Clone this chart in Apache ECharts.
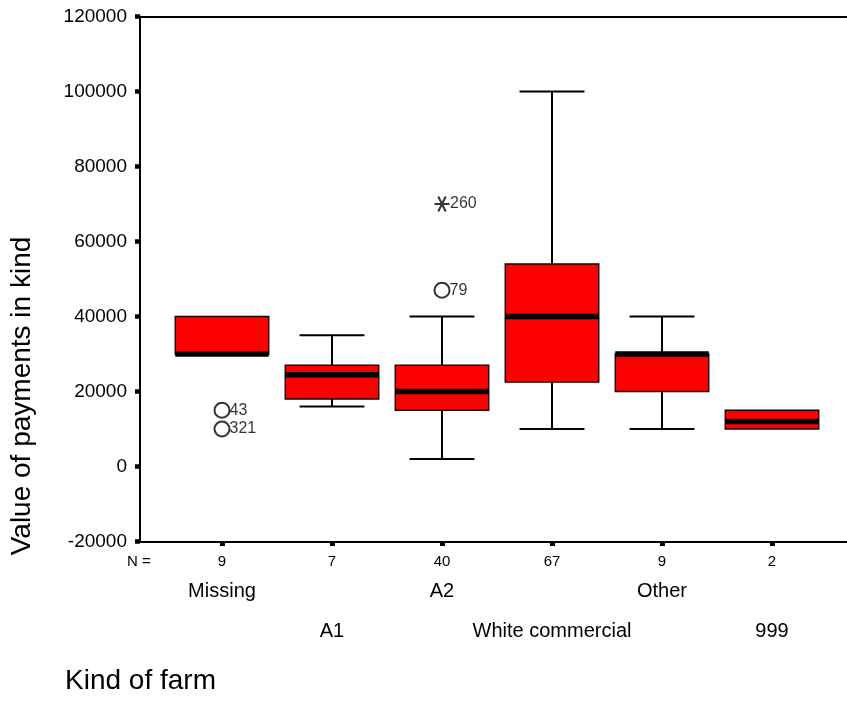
<!DOCTYPE html>
<html>
<head>
<meta charset="utf-8">
<script src="https://cdn.jsdelivr.net/npm/echarts@6/dist/echarts.min.js"></script>
<style>
  html, body { margin: 0; padding: 0; background: #ffffff; }
  #chart { width: 847px; height: 709px; }
</style>
</head>
<body>
<div id="chart"></div>
<script>
// Kind of farm groups and their box-plot summaries (value of payments in kind)
const categories = ['Missing', 'A1', 'A2', 'White commercial', 'Other', '999'];
const groupSizes = [9, 7, 40, 67, 9, 2];
const whiskerLow = [30000, 16000, 2000, 10000, 10000, 10000];
const quartile1 = [30000, 18000, 15000, 22500, 20000, 10000];
const medians = [30000, 24500, 20000, 40000, 30000, 12000];
const quartile3 = [40000, 27000, 27000, 54000, 30000, 15000];
const whiskerHigh = [40000, 35000, 40000, 100000, 40000, 15000];

// Outliers (circles) and extremes (stars), labelled with case numbers
const outlierCase = ['43', '321', '79'];
const outlierGroup = [0, 0, 2];
const outlierValue = [15000, 10000, 47000];
const extremeCase = ['260'];
const extremeGroup = [2];
const extremeValue = [70000];

// Value axis range
const yMin = -20000;
const yMax = 120000;
const yStep = 20000;

const FONT = '"Liberation Sans", Arial, Helvetica, sans-serif';
const NARROW = '"Liberation Sans Narrow", "Liberation Sans", Arial, sans-serif';

const boxData = categories.map((c, i) => [i, whiskerLow[i], quartile1[i], medians[i], quartile3[i], whiskerHigh[i]]);
const outlierData = outlierCase.map((id, k) => ({ name: id, value: [outlierGroup[k], outlierValue[k]] }));
const extremeData = extremeCase.map((id, k) => ({ name: id, value: [extremeGroup[k], extremeValue[k]] }));

function renderBox(params, api) {
  const i = api.value(0);
  const band = api.size([1, 0])[0];
  const halfBox = band * 0.425;
  const halfCap = band * 0.295;
  const x = api.coord([i, 0])[0];
  const yLow = api.coord([i, api.value(1)])[1];
  const yQ1 = api.coord([i, api.value(2)])[1];
  const yMed = api.coord([i, api.value(3)])[1];
  const yQ3 = api.coord([i, api.value(4)])[1];
  const yHigh = api.coord([i, api.value(5)])[1];
  const stroke = { stroke: '#000', lineWidth: 2 };
  const children = [];
  if (yHigh < yQ3 - 0.5) {
    children.push({ type: 'line', shape: { x1: x, y1: yHigh, x2: x, y2: yQ3 }, style: stroke });
    children.push({ type: 'line', shape: { x1: x - halfCap, y1: yHigh, x2: x + halfCap, y2: yHigh }, style: stroke });
  }
  if (yLow > yQ1 + 0.5) {
    children.push({ type: 'line', shape: { x1: x, y1: yQ1, x2: x, y2: yLow }, style: stroke });
    children.push({ type: 'line', shape: { x1: x - halfCap, y1: yLow, x2: x + halfCap, y2: yLow }, style: stroke });
  }
  children.push({
    type: 'rect',
    shape: { x: x - halfBox, y: yQ3, width: halfBox * 2, height: yQ1 - yQ3 },
    style: { fill: '#ff0000', stroke: '#1a0000', lineWidth: 1.4 }
  });
  children.push({
    type: 'line',
    shape: { x1: x - halfBox, y1: yMed, x2: x + halfBox, y2: yMed },
    style: { stroke: '#000', lineWidth: 5.5 }
  });
  return { type: 'group', children: children };
}

const chart = echarts.init(document.getElementById('chart'), null, { renderer: 'canvas' });

chart.setOption({
  backgroundColor: '#ffffff',
  animation: false,
  textStyle: { fontFamily: FONT },
  grid: [
    { left: 140, right: 0, top: 16.5, bottom: 167.5 },
    { left: 167, right: 20, top: 16.5, bottom: 167.5 }
  ],
  xAxis: [
    { // frame bottom line
      gridIndex: 0, type: 'value', min: 0, max: 1, position: 'bottom',
      axisLine: { show: true, onZero: false, lineStyle: { color: '#000', width: 2 } },
      axisTick: { show: false }, axisLabel: { show: false }, splitLine: { show: false }
    },
    { // frame top line
      gridIndex: 0, type: 'value', min: 0, max: 1, position: 'top',
      axisLine: { show: true, onZero: false, lineStyle: { color: '#000', width: 2 } },
      axisTick: { show: false }, axisLabel: { show: false }, splitLine: { show: false }
    },
    { // group sizes under each box
      gridIndex: 1, type: 'category', data: categories, position: 'bottom',
      axisLine: { show: false, onZero: false },
      axisTick: { show: true, alignWithLabel: true, length: 4.5, lineStyle: { color: '#000', width: 5 } },
      axisLabel: {
        show: true, interval: 0, margin: 20.5, verticalAlign: 'middle',
        fontFamily: NARROW, fontSize: 15, color: '#000',
        formatter: (v, idx) => String(groupSizes[idx])
      },
      splitLine: { show: false }
    },
    { // first row of group names
      gridIndex: 1, type: 'category', data: categories, position: 'bottom',
      axisLine: { show: false, onZero: false }, axisTick: { show: false },
      axisLabel: {
        show: true, interval: 0, margin: 49.5, verticalAlign: 'middle',
        fontFamily: FONT, fontSize: 20, color: '#000',
        formatter: (v, idx) => (idx % 2 === 0 ? v : '')
      },
      splitLine: { show: false }
    },
    { // second row of group names
      gridIndex: 1, type: 'category', data: categories, position: 'bottom',
      axisLine: { show: false, onZero: false }, axisTick: { show: false },
      axisLabel: {
        show: true, interval: 0, margin: 89.5, verticalAlign: 'middle',
        fontFamily: FONT, fontSize: 20, color: '#000',
        formatter: (v, idx) => (idx % 2 === 1 ? v : '')
      },
      splitLine: { show: false }
    }
  ],
  yAxis: [
    {
      gridIndex: 0, type: 'value', min: yMin, max: yMax, interval: yStep,
      axisLine: { show: true, onZero: false, lineStyle: { color: '#000', width: 2 } },
      axisTick: { show: true, length: 5, lineStyle: { color: '#000', width: 4.5 } },
      axisLabel: {
        show: true, margin: 13, fontFamily: FONT, fontSize: 19, color: '#000',
        formatter: (v) => String(v)
      },
      splitLine: { show: false }
    },
    {
      gridIndex: 1, type: 'value', min: yMin, max: yMax, interval: yStep,
      axisLine: { show: false, onZero: false }, axisTick: { show: false },
      axisLabel: { show: false }, splitLine: { show: false }
    }
  ],
  series: [
    {
      type: 'custom',
      xAxisIndex: 2, yAxisIndex: 1,
      renderItem: renderBox,
      encode: { x: 0, y: [1, 2, 3, 4, 5] },
      data: boxData,
      z: 2
    },
    {
      type: 'scatter',
      xAxisIndex: 2, yAxisIndex: 1,
      symbol: 'circle', symbolSize: 15,
      itemStyle: { color: '#ffffff', borderColor: '#000', borderWidth: 2 },
      label: {
        show: true, position: 'right', distance: -1, formatter: '{b}',
        fontFamily: NARROW, fontSize: 16, color: '#000'
      },
      data: outlierData,
      z: 3
    },
    {
      type: 'scatter',
      xAxisIndex: 2, yAxisIndex: 1,
      symbol: 'path://M0,7L14,7M3.5,0.9L10.5,13.1M10.5,0.9L3.5,13.1',
      symbolSize: 15,
      itemStyle: { color: 'none', borderColor: '#000', borderWidth: 2 },
      label: {
        show: true, position: 'right', distance: -2, formatter: '{b}',
        fontFamily: NARROW, fontSize: 16, color: '#000'
      },
      data: extremeData,
      z: 3
    }
  ],
  graphic: [
    {
      type: 'text', x: 22, y: 396, rotation: Math.PI / 2,
      style: {
        text: 'Value of payments in kind', fontFamily: FONT, fontSize: 28,
        fill: '#000', align: 'center', verticalAlign: 'middle'
      }
    },
    {
      type: 'text', x: 65, y: 681,
      style: {
        text: 'Kind of farm', fontFamily: FONT, fontSize: 28,
        fill: '#000', align: 'left', verticalAlign: 'middle'
      }
    },
    {
      type: 'text', x: 139, y: 562,
      style: {
        text: 'N =', fontFamily: NARROW, fontSize: 15,
        fill: '#000', align: 'center', verticalAlign: 'middle'
      }
    }
  ]
});
</script>
</body>
</html>
